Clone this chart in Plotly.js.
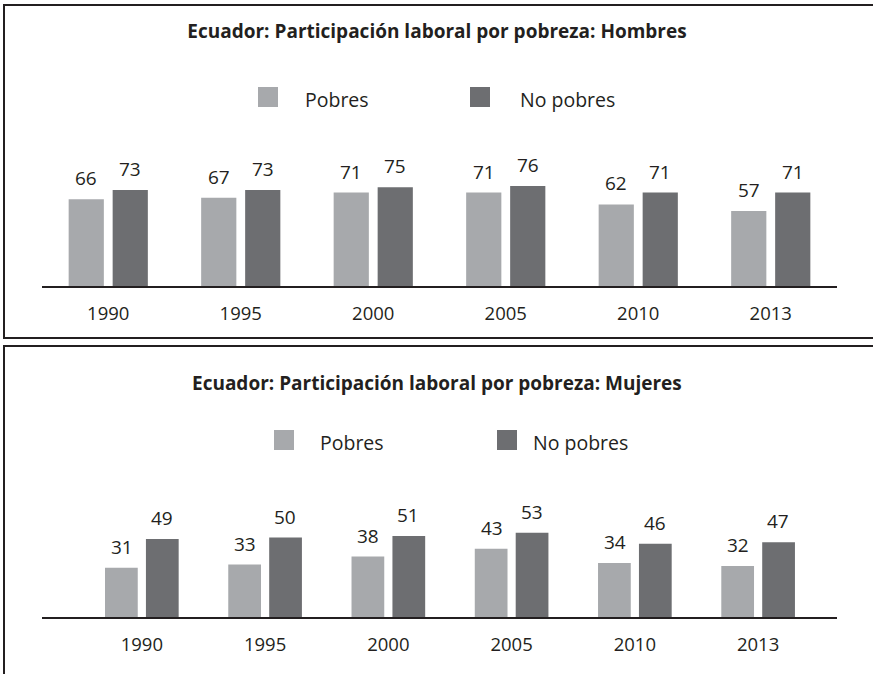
<!DOCTYPE html>
<html>
<head>
<meta charset="utf-8">
<script src="https://cdn.plot.ly/plotly-3.0.1.min.js"></script>
<style>html,body{margin:0;padding:0;background:#fff;}#chart{width:873px;height:674px;}</style>
</head>
<body>
<div id="chart"></div>
<script>
const years = ['1990', '1995', '2000', '2005', '2010', '2013'];
const hombresPobres = [66, 67, 71, 71, 62, 57];
const hombresNoPobres = [73, 73, 75, 76, 71, 71];
const mujeresPobres = [31, 33, 38, 43, 34, 32];
const mujeresNoPobres = [49, 50, 51, 53, 46, 47];
const seriesNames = ['Pobres', 'No pobres'];
const titleHombres = 'Ecuador: Participación laboral por pobreza: Hombres';
const titleMujeres = 'Ecuador: Participación laboral por pobreza: Mujeres';

const W = 873, H = 674;
const px = v => v / W;
const py = v => 1 - v / H;
const FONT = 'Open Sans, Noto Sans, sans-serif';
const TXT = '#231f20';
const C1 = '#a7a9ac', C2 = '#6d6e71';

function bar(name, ys, color, xa, ya) {
  return {type: 'bar', name: name, x: years, y: ys, xaxis: xa, yaxis: ya,
    marker: {color: color}, showlegend: false, hoverinfo: 'x+y'};
}
const data = [
  bar(seriesNames[0], hombresPobres, C1, 'x', 'y'),
  bar(seriesNames[1], hombresNoPobres, C2, 'x', 'y'),
  bar(seriesNames[0], mujeresPobres, C1, 'x2', 'y2'),
  bar(seriesNames[1], mujeresNoPobres, C2, 'x2', 'y2')
];

const annotations = [];
function labels(ys, xa, ya, shift) {
  ys.forEach((v, i) => annotations.push({xref: xa, yref: ya, x: i, y: v,
    text: String(v), showarrow: false, yanchor: 'bottom', xanchor: 'center',
    xshift: shift, yshift: 6, font: {family: FONT, size: 19, color: TXT}}));
}
labels(hombresPobres, 'x', 'y', -22);
labels(hombresNoPobres, 'x', 'y', 22);
labels(mujeresPobres, 'x2', 'y2', -20);
labels(mujeresNoPobres, 'x2', 'y2', 20);

annotations.push({xref: 'paper', yref: 'paper', x: px(437), y: py(383), text: '<b>' + titleMujeres + '</b>',
  showarrow: false, xanchor: 'center', yanchor: 'middle', font: {family: FONT, size: 19, color: TXT}});

const shapes = [];
function legend(sq1x, sq2x, sqy, t1x, t2x) {
  [[sq1x, C1, t1x, seriesNames[0]], [sq2x, C2, t2x, seriesNames[1]]].forEach(([sx, c, tx, t]) => {
    shapes.push({type: 'rect', xref: 'paper', yref: 'paper', x0: px(sx), x1: px(sx + 20),
      y0: py(sqy), y1: py(sqy + 20), fillcolor: c, line: {width: 0}});
    annotations.push({xref: 'paper', yref: 'paper', x: px(tx), y: py(sqy + 12), text: t,
      showarrow: false, xanchor: 'left', yanchor: 'middle', font: {family: FONT, size: 19.5, color: TXT}});
  });
}
legend(258, 470, 87, 303, 518);
legend(274, 497, 430, 318, 531);

function line(x0, y0, x1, y1) {
  shapes.push({type: 'line', xref: 'paper', yref: 'paper', x0: px(x0), y0: py(y0), x1: px(x1), y1: py(y1),
    line: {color: TXT, width: 2}});
}
line(4, 5, 873, 5); line(4, 4, 4, 339); line(4, 338, 873, 338);
line(4, 346, 873, 346); line(4, 345, 4, 674);

const xCommon = {type: 'category', showline: true, linecolor: TXT, linewidth: 1.5, ticks: '',
  showgrid: false, zeroline: false, fixedrange: true, ticklabelstandoff: 10,
  tickfont: {family: FONT, size: 18.5, color: TXT}, domain: [px(42), px(837)]};
const yCommon = {showline: false, showgrid: false, zeroline: false, showticklabels: false, ticks: '', fixedrange: true};

const layout = {
  width: W, height: H, margin: {l: 0, r: 0, t: 0, b: 0},
  paper_bgcolor: '#fff', plot_bgcolor: '#fff',
  barmode: 'group', bargap: 0.336, bargroupgap: 0.2,
  title: {text: '<b>' + titleHombres + '</b>', x: px(437), y: py(31), xanchor: 'center', yanchor: 'middle',
    xref: 'paper', yref: 'paper', font: {family: FONT, size: 19, color: TXT}},
  xaxis: Object.assign({}, xCommon, {anchor: 'y', range: [-0.5, 5.5]}),
  yaxis: Object.assign({}, yCommon, {anchor: 'x', domain: [py(286), py(140)], range: [0, 111]}),
  xaxis2: Object.assign({}, xCommon, {anchor: 'y2', range: [-0.81, 5.64]}),
  yaxis2: Object.assign({}, yCommon, {anchor: 'x2', domain: [py(617), py(470)], range: [0, 92.45]}),
  annotations: annotations, shapes: shapes, showlegend: false
};
Plotly.newPlot('chart', data, layout, {displayModeBar: false, staticPlot: true});
</script>
</body>
</html>
